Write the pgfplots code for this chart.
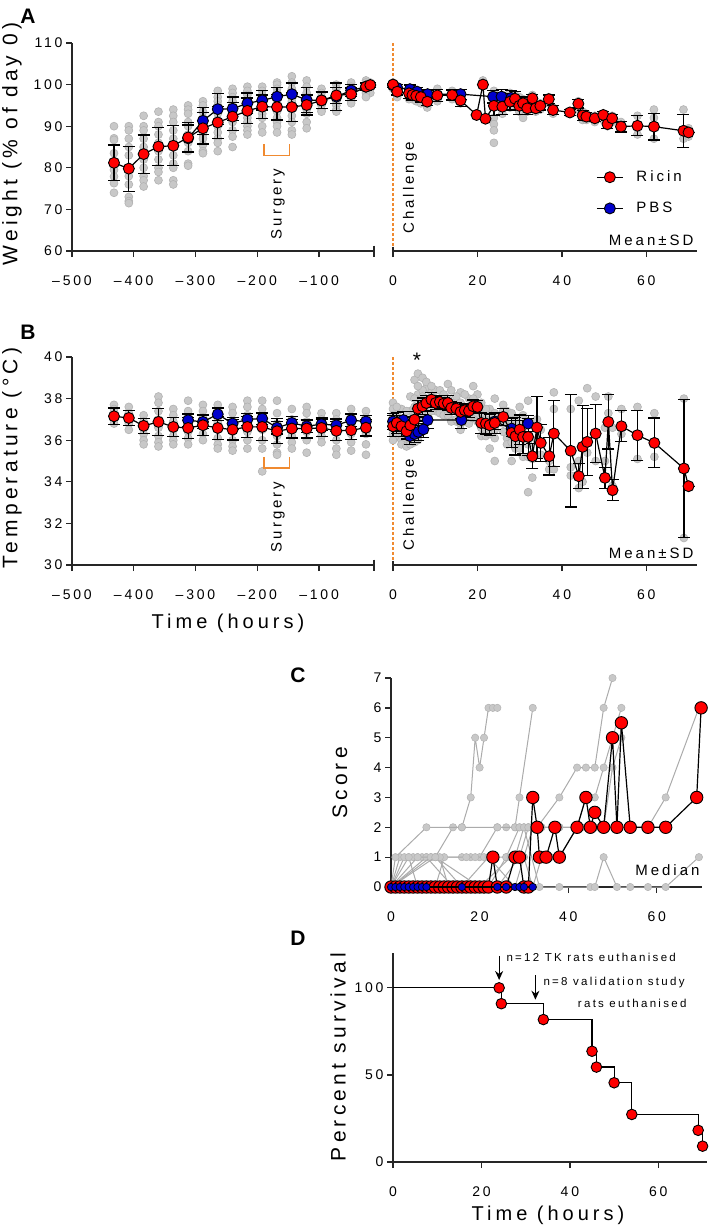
\documentclass[border=0pt]{standalone}
\usepackage{fontspec}
\setmainfont{Liberation Sans}[LetterSpace=20]
\usepackage{pgfplots}
\usepackage{pgfplotstable}
\pgfplotsset{compat=1.18}
\usetikzlibrary{arrows.meta}

\definecolor{ricin}{HTML}{FF0000}
\definecolor{pbs}{HTML}{0000CC}
\definecolor{dot}{HTML}{C8C8C8}
\definecolor{dotedge}{HTML}{B2B2B2}
\definecolor{orng}{HTML}{F08A30}
\definecolor{gline}{HTML}{ABABAB}

\newcommand\tks{\fontsize{14}{16}\selectfont}
\newcommand\lbs{\fontsize{21}{24}\selectfont}
\newcommand\tlb{\fontsize{20}{24}\selectfont}
\newcommand\ann{\fontsize{15}{18}\selectfont}
\newcommand\sml{\fontsize{11.5}{14}\selectfont}

\pgfplotsset{
  base/.style={scale only axis, clip=false, clip marker paths=true,
    axis line style={line width=1.3pt, black!85},
    every tick/.style={line width=1.3pt, black!85},
    tick align=outside, major tick length=6pt, minor tick num=0,
    tick label style={font=\tks},
    xticklabel style={yshift=-15pt},
    axis x line*=bottom, axis y line*=left},
  right/.style={base, axis y line=none, ytick=\empty},
  grey/.style={only marks, mark=*, mark size=4pt, forget plot,
    mark options={fill=dot, draw=dotedge, line width=0.6pt}},
  gpath/.style={gline, line width=1pt, mark=*, mark size=3.7pt, forget plot,
    mark options={fill=dot, draw=dotedge, line width=0.5pt}},
  rmark/.style={black, line width=1.2pt, mark=*, mark size=5.5pt,
    mark options={fill=ricin, draw=black, line width=0.9pt, solid}},
  bmark/.style={black, line width=1.2pt, mark=*, mark size=5.5pt,
    mark options={fill=pbs, draw=black, line width=0.9pt, solid}},
  sdbars/.style={forget plot, draw=none, mark=none,
    error bars/.cd, y dir=both, y explicit,
    error bar style={draw=black, line width=1.2pt, solid},
    error mark options={rotate=90, mark size=6pt, line width=1.2pt, draw=black}},
}

% ---------- panel A: weight ----------
\pgfplotstableread{
t a b c d e f g h i j k l
-432 90 87.1 86.7 83.5 81.1 79.5 77.9 76.3 74.0 nan nan nan
-408 90 89 87 85 83 80 78 76 73 72 71.5 nan
-384 92.5 90 89 87 85 82 80 78 77 75.5 nan nan
-360 93.5 91 90 88 86 84 82 80 79 77 nan nan
-336 94 92.5 91 89 87 85 83 81 80 77 76 nan
-312 95 94 93 91 90 88 86 84 81 80.5 nan nan
-288 96 95 93.5 92 91 90 89 88 87 85.5 84 83.5
-264 98.5 97 96 95 94 93 91.5 90 88.5 87 86 84
-240 99 98 97 96 95 94 93 91 89 87.5 85 nan
-216 99.5 98.5 97.5 96.5 95.5 94 92 91 90 89 88 nan
-192 99.5 98.5 97.5 97 96 95 94 93 92 90 88.5 nan
-168 100.5 100 99 98 96.5 95 93.5 92 91 90 88.5 nan
-144 102 100.5 99 98 97 96 94 92.5 91 89 88 nan
-120 101 99.5 98 97 96 95 94 93 91 89.5 nan nan
-96 99 98 97 96.5 96 95 94 93.5 nan nan nan nan
-72 100 99 98 97.5 97 96 95 94 93.5 nan nan nan
-48 100.5 99.5 99 98.5 98 97 96 95.5 nan nan nan nan
-24 101 100.5 100 99.5 99 98.5 98 97 nan nan nan nan
-17 100.5 100 99 98 nan nan nan nan nan nan nan nan
}\wgreyL

\pgfplotstableread{
t m sd
-432 81.2 4.3
-408 79.8 5.4
-384 83.3 4.6
-360 85.1 4.5
-336 85.3 4.8
-312 87.3 3.6
-288 89.5 3.8
-264 90.9 3.8
-240 92.3 3.4
-216 93.7 3.1
-192 94.7 2.8
-168 94.6 3.1
-144 94.6 3.4
-120 95.1 2.4
-96 96.2 2.0
-72 97.4 2.0
-48 97.7 1.5
-24 99.5 0.9
-17 99.9 0.6
}\wredL

\pgfplotstableread{
t m sd
-312 87.1 3.2
-288 91.3 3.2
-264 94.1 3.7
-240 94.2 2.8
-216 95.5 2.5
-192 96.2 2.3
-168 97.1 2.3
-144 97.7 2.7
-120 96.3 3.0
-96 96.2 2.0
-72 97.1 3.3
-48 98.6 1.5
-24 99.5 0.8
}\wblueL

\pgfplotstableread{
t a b c d e
0 100.5 99.5 99 nan nan
1 99 97.5 97 nan nan
3.8 99 97 96.5 nan nan
4.6 98.5 96.5 nan nan nan
5.5 98 96 nan nan nan
6.6 97.5 95.5 nan nan nan
8.1 97 95 94.5 nan nan
10.5 99 96 nan nan nan
14 98.5 96.5 nan nan nan
16 98 95.5 nan nan nan
19.8 93 92.5 nan nan nan
21.3 101 100 nan nan nan
21.9 92 nan nan nan nan
23.9 98.5 92 90.5 89 86
25.9 97.5 93 nan nan nan
27.7 98 94.5 nan nan nan
28.9 97.5 95.5 nan nan nan
29.9 97 93.5 nan nan nan
30.8 96.5 92 nan nan nan
31.8 96 93.5 nan nan nan
33.0 97.5 95 nan nan nan
33.8 95.5 93.5 nan nan nan
34.9 95.5 94 nan nan nan
36.9 97 95.5 nan nan nan
37.9 94.5 93 nan nan nan
41.9 93.5 nan nan nan nan
43.9 96 94 nan nan nan
44.9 93.5 91.5 nan nan nan
45.8 93 91.5 nan nan nan
47.8 92.5 91 nan nan nan
49.8 93 91.5 nan nan nan
50.8 91.5 90 nan nan nan
51.9 92.5 91 nan nan nan
54.0 91 89.5 nan nan nan
57.9 92.5 88 nan nan nan
61.8 94 92 87 nan nan
68.8 94 87 nan nan nan
70.0 89.5 87.5 nan nan nan
}\wgreyR

\pgfplotstableread{
t m sd
0 100.0 0
1 98.3 0.8
3.8 97.9 1.2
4.6 97.5 1.2
5.5 97.3 1.2
6.6 97.0 1.2
8.1 95.9 1.0
10.5 97.4 1.5
14 97.5 1.2
16 96.2 1.5
19.8 92.7 0
21.3 100.0 0
21.9 91.8 0
23.9 94.9 2.3
25.9 94.7 1.8
27.7 95.9 2.0
28.9 96.6 1.8
29.9 94.9 2.0
30.8 95.5 1.5
31.8 94.3 1.5
33.0 96.7 1.0
33.8 94.3 1.0
34.9 94.9 1.0
36.9 96.5 1.0
37.9 93.9 1.0
41.9 93.3 0.8
43.9 95.4 1.0
44.9 92.6 1.2
45.8 92.3 1.0
47.8 91.9 0.8
49.8 92.7 0.8
50.8 90.5 1.0
51.9 91.9 1.0
54.0 89.9 1.3
57.9 90.1 2.4
61.8 89.9 3.2
68.8 88.9 4.0
70.0 88.5 0
}\wredR

\pgfplotstableread{
t m sd
0 99.8 0.5
1 99.2 0.8
4 98.9 1.0
5.7 98.3 1.0
8.2 97.7 1.0
16 97.7 1.2
23.7 97.1 1.5
25.7 97.1 1.8
28 96.8 1.8
}\wblueR

% ---------- panel B: temperature ----------
\pgfplotstableread{
t a b c d e f g h
-432 37.7 37.5 37.2 37.0 36.8 nan nan nan
-408 37.6 37.3 36.8 36.5 nan nan nan nan
-384 37.2 36.9 36.6 36.3 36.0 35.8 nan nan
-360 38.1 37.8 37.4 37.0 36.6 36.2 35.9 35.7
-336 37.5 37.2 36.9 36.5 36.2 36.0 35.8 nan
-312 37.9 37.4 37.1 36.8 36.4 36.1 35.8 nan
-288 37.7 37.4 37.1 36.7 36.3 36.0 nan nan
-264 37.7 37.3 36.9 36.5 36.1 35.8 35.6 nan
-240 37.6 37.3 36.9 36.4 36.0 35.7 35.5 nan
-216 37.9 37.6 37.2 36.8 36.4 36.0 35.6 nan
-192 37.9 37.5 37.0 36.5 36.0 35.6 34.5 nan
-168 37.9 37.3 36.8 36.2 35.8 35.4 35.3 nan
-144 37.5 37.0 36.6 36.2 35.9 35.6 nan nan
-120 37.6 37.3 36.9 36.4 36.0 35.4 nan nan
-96 37.3 37.0 36.6 36.2 35.9 nan nan nan
-72 37.3 37.0 36.5 36.0 35.6 35.3 nan nan
-48 37.5 37.1 36.7 36.3 35.9 35.5 nan nan
-24 37.4 37.1 36.7 36.3 35.8 35.3 nan nan
}\tgreyL

\pgfplotstableread{
t m sd
-432 37.15 0.4
-408 37.07 0.35
-384 36.69 0.35
-360 36.88 0.65
-336 36.64 0.45
-312 36.59 0.5
-288 36.72 0.5
-264 36.59 0.55
-240 36.51 0.5
-216 36.64 0.5
-192 36.64 0.65
-168 36.43 0.6
-144 36.56 0.45
-120 36.56 0.45
-96 36.59 0.4
-72 36.45 0.45
-48 36.48 0.45
-24 36.60 0.4
}\tredL

\pgfplotstableread{
t m sd
-312 36.96 0.3
-288 36.88 0.3
-264 37.25 0.3
-240 36.80 0.3
-216 37.00 0.3
-192 37.04 0.3
-168 36.60 0.3
-144 36.83 0.3
-120 36.67 0.3
-96 36.77 0.3
-72 36.72 0.3
-48 36.96 0.3
-24 36.90 0.3
}\tblueL

\pgfplotstableread{
t a b c d e f g h
0 37.8 37.5 37.2 36.3 36.0 37.0 36.6 nan
0.9 37.3 36.2 nan nan nan 37.6 36.9 36.5
2.0 37.5 36.4 36.0 nan nan 37.0 35.8 nan
3.2 37.0 35.9 nan nan nan 37.4 36.3 35.7
4.1 38.1 37.4 36.0 nan nan 37.0 36.4 35.8
5.1 38.9 37.6 36.6 nan nan 38.0 37.2 35.9
5.9 39.2 38.2 36.0 nan nan 38.6 37.6 36.6
7.0 39.0 38.4 37.2 nan nan 38.1 37.7 nan
7.9 38.5 38.0 37.0 nan nan 38.8 37.5 nan
9.1 38.3 37.9 nan nan nan 38.6 37.4 nan
10.1 38.4 37.4 nan nan nan 38.0 37.6 nan
11.1 38.0 37.3 nan nan nan 38.4 37.6 nan
12.0 37.5 37.2 nan nan nan 38.2 37.8 nan
13.0 38.7 37.4 nan nan nan 38.0 37.2 nan
13.8 38.4 37.0 nan nan nan 37.8 36.9 nan
15.0 37.4 36.9 nan nan nan 38.1 37.0 nan
16.0 38.3 36.8 nan nan nan 37.8 36.5 nan
17.0 37.0 36.9 nan nan nan 38.2 37.6 nan
18.0 38.0 37.0 nan nan nan 37.6 36.8 nan
19.0 38.6 37.2 nan nan nan 38.0 37.5 nan
20.0 38.2 36.9 nan nan nan 37.7 37.3 nan
20.9 37.8 36.2 nan nan nan 37.3 36.6 nan
22.0 36.5 36.2 nan nan nan 37.5 37.0 nan
22.9 37.5 35.6 nan nan nan 37.0 36.3 nan
24.1 38.0 36.1 35.0 nan nan 37.3 36.5 nan
26.1 37.7 36.4 nan nan nan 37.4 36.8 nan
27.0 37.4 36.1 nan nan nan 36.8 35.8 nan
28.1 37.3 35.0 nan nan nan 36.8 35.9 nan
29.0 36.6 35.6 nan nan nan 37.0 35.8 nan
30.0 37.6 35.6 nan nan nan 36.8 36.2 nan
30.8 36.1 35.2 nan nan nan 37.2 36.6 nan
32.0 37.9 35.8 33.5 nan nan 36.9 35.2 nan
33.0 35.1 34.2 nan nan nan nan nan nan
34.1 37.0 36.0 nan nan nan nan nan nan
35.0 36.5 35.3 nan nan nan nan nan nan
37.0 35.0 34.6 nan nan nan nan nan nan
38.1 38.3 37.5 34.6 nan nan nan nan nan
42.1 37.5 34.7 34.3 nan nan nan nan nan
44.0 37.9 35.0 33.7 nan nan nan nan nan
44.9 34.0 nan nan nan nan nan nan nan
46.0 38.5 35.4 nan nan nan nan nan nan
48.0 38.1 35.0 nan nan nan nan nan nan
50.2 36.6 35.0 nan nan nan nan nan nan
51.0 38.1 37.3 nan nan nan nan nan nan
52.0 36.6 33.8 33.5 nan nan nan nan nan
54.1 37.5 36.3 nan nan nan nan nan nan
57.9 37.6 35.1 nan nan nan nan nan nan
61.9 37.3 35.2 nan nan nan nan nan nan
68.9 38.0 31.3 nan nan nan nan nan nan
70.0 33.8 nan nan nan nan nan nan nan
}\tgreyR

\pgfplotstableread{
t m sd
0 36.67 0.5
0.9 36.83 0.5
2.0 36.67 0.5
3.2 36.43 0.4
4.1 36.72 0.4
5.1 36.99 0.4
5.9 37.52 0.4
7.0 37.63 0.4
7.9 37.79 0.35
9.1 37.95 0.35
10.1 37.79 0.3
11.1 37.84 0.3
12.0 37.76 0.3
13.0 37.79 0.35
13.8 37.55 0.3
15.0 37.52 0.3
16.0 37.36 0.3
17.0 37.44 0.3
18.0 37.41 0.3
19.0 37.63 0.3
20.0 37.60 0.3
20.9 36.83 0.5
22.0 36.80 0.5
22.9 36.72 0.5
24.1 36.83 0.5
26.1 37.12 0.4
28.1 36.35 0.7
29.0 36.19 0.9
30.0 36.51 0.7
30.8 36.16 0.8
32.0 36.16 0.9
33.0 35.23 0.6
34.1 36.61 1.5
35.0 35.87 0.9
37.0 35.23 0.9
38.1 36.32 1.6
42.1 35.49 2.7
44.0 34.27 0.6
44.9 35.68 2.0
46.0 35.92 1.6
48.0 36.32 1.4
50.2 34.19 0.5
51.0 36.88 1.3
52.0 33.60 0.5
54.1 36.67 0.75
57.9 36.24 1.2
61.9 35.87 1.2
68.9 34.64 3.3
70.0 33.79 0
}\tredR

\pgfplotstableread{
t m sd
0 36.90 0.4
1 36.80 0.4
2.4 36.97 0.4
3.2 36.50 0.4
4.0 36.20 0.4
5.1 36.30 0.4
6.0 36.40 0.4
7.2 36.52 0.4
8.2 36.97 0.4
16.2 36.97 0.4
24.1 36.90 0.4
28.1 36.56 0.4
32.0 36.80 0.4
}\tblueR

\begin{document}
\begin{tikzpicture}
\useasboundingbox (0pt,0pt) rectangle (709pt,-1228pt);

% ===== A left =====
\begin{axis}[base, at={(72pt,-251pt)}, anchor=south west,
  width=302pt, height=208pt, xmin=-500, xmax=-11, ymin=60, ymax=110,
  xtick={-500,-400,-300,-200,-100}, xticklabels={–500,–400,–300,–200,–100},
  ytick={60,70,...,110}, yticklabels={60,70,80,90,100,110}]
\pgfplotsinvokeforeach{a,b,c,d,e,f,g,h,i,j,k,l}{
  \addplot[grey] table[x=t, y=#1] {\wgreyL};}
\addplot[sdbars] table[x=t, y=m, y error=sd] {\wblueL};
\addplot[sdbars] table[x=t, y=m, y error=sd] {\wredL};
\addplot[bmark, forget plot] table[x=t, y=m] {\wblueL};
\addplot[rmark, forget plot] table[x=t, y=m] {\wredL};
\draw[orng, line width=1.3pt] (axis cs:-189,85.7) -- (axis cs:-189,83)
  -- (axis cs:-148,83) -- (axis cs:-148,85.7);
\draw[line width=1.3pt, black!85] ([yshift=5.5pt]axis cs:-11,60)
  -- ([yshift=-5.5pt]axis cs:-11,60);
\end{axis}

% ===== A right =====
\begin{axis}[right, at={(393pt,-251pt)}, anchor=south west,
  width=304pt, height=208pt, xmin=0, xmax=72, ymin=60, ymax=110,
  xtick={0,20,40,60}, xticklabels={0,20,40,60},
  legend style={draw=none, fill=none, at={(0.668,0.395)}, anchor=north west,
    font=\ann, row sep=15pt, inner sep=0pt, cells={anchor=west}},
  legend image code/.code={\draw[mark repeat=2, mark phase=2]
    plot coordinates {(0pt,0pt) (13pt,0pt) (26pt,0pt)};}]
\draw[orng, line width=1.2pt, dash pattern=on 3pt off 2pt]
  (axis cs:0,60) -- (axis cs:0,110);
\pgfplotsinvokeforeach{a,b,c,d,e}{
  \addplot[grey] table[x=t, y=#1] {\wgreyR};}
\addplot[sdbars] table[x=t, y=m, y error=sd] {\wblueR};
\addplot[sdbars] table[x=t, y=m, y error=sd] {\wredR};
\addplot[bmark, forget plot] table[x=t, y=m] {\wblueR};
\addplot[rmark, forget plot] table[x=t, y=m] {\wredR};
\draw[line width=1.3pt, black!85] ([yshift=4.5pt]axis cs:0,60) -- (axis cs:0,60);
\addlegendimage{rmark}
\addlegendentry{\hspace{11pt}Ricin}
\addlegendimage{bmark}
\addlegendentry{\hspace{11pt}PBS}
\end{axis}

% ===== B left =====
\begin{axis}[base, at={(72pt,-565pt)}, anchor=south west,
  width=302pt, height=208pt, xmin=-500, xmax=-11, ymin=30, ymax=40,
  xtick={-500,-400,-300,-200,-100}, xticklabels={–500,–400,–300,–200,–100},
  ytick={30,32,...,40}, yticklabels={30,32,34,36,38,40}]
\pgfplotsinvokeforeach{a,b,c,d,e,f,g,h}{
  \addplot[grey] table[x=t, y=#1] {\tgreyL};}
\addplot[sdbars] table[x=t, y=m, y error=sd] {\tblueL};
\addplot[sdbars] table[x=t, y=m, y error=sd] {\tredL};
\addplot[bmark, forget plot] table[x=t, y=m] {\tblueL};
\addplot[rmark, forget plot] table[x=t, y=m] {\tredL};
\draw[orng, line width=1.3pt] (axis cs:-189,35.2) -- (axis cs:-189,34.66)
  -- (axis cs:-148,34.66) -- (axis cs:-148,35.2);
\draw[line width=1.3pt, black!85] ([yshift=5.5pt]axis cs:-11,30)
  -- ([yshift=-5.5pt]axis cs:-11,30);
\end{axis}

% ===== B right =====
\begin{axis}[right, at={(393pt,-565pt)}, anchor=south west,
  width=304pt, height=208pt, xmin=0, xmax=72, ymin=30, ymax=40,
  xtick={0,20,40,60}, xticklabels={0,20,40,60}]
\draw[orng, line width=1.2pt, dash pattern=on 3pt off 2pt]
  (axis cs:0,30) -- (axis cs:0,40);
\pgfplotsinvokeforeach{a,b,c,d,e,f,g,h}{
  \addplot[grey] table[x=t, y=#1] {\tgreyR};}
\addplot[sdbars] table[x=t, y=m, y error=sd] {\tblueR};
\addplot[sdbars] table[x=t, y=m, y error=sd] {\tredR};
\addplot[bmark, forget plot] table[x=t, y=m] {\tblueR};
\addplot[rmark, forget plot] table[x=t, y=m] {\tredR};
\draw[line width=1.3pt, black!85] ([yshift=4.5pt]axis cs:0,30) -- (axis cs:0,30);
\end{axis}

% ===== C: clinical score =====
\begin{axis}[base, at={(391pt,-887pt)}, anchor=south west,
  width=311pt, height=209pt, xmin=0, xmax=70.2, ymin=0, ymax=7,
  xtick={0,20,40,60}, xticklabels={0,20,40,60},
  ytick={0,1,...,7}, yticklabels={0,1,2,3,4,5,6,7}]
\addplot[gpath] coordinates {(0,0) (2,1) (4,1) (6,1) (8,1) (10,1) (14,2) (16,2)
  (18,3) (19,5) (20,4) (21,5) (22,6) (23,6) (24,6)};
\addplot[gpath] coordinates {(0,0) (3,1) (5,1) (7,1) (9,1) (16,1) (18,1) (20,1)
  (24,2) (26,2) (28,2) (29,3) (32,6)};
\addplot[gpath] coordinates {(0,0) (1,1) (8,2) (16,2) (24,2) (28,2) (29,2) (30,2)
  (31,2) (33,2) (38,3) (42,4) (44,4) (46,4) (48,6) (50,7)};
\addplot[gpath] coordinates {(0,0) (4,1) (6,0) (10,0) (12,1) (17,1) (19,1) (21,1)
  (26,1) (29,2) (31,2) (33,2) (42,2) (44,3) (46,3) (48,4) (50,5) (52,6)};
\addplot[gpath] coordinates {(0,0) (8,1) (14,0) (22,0) (26,1) (28,1) (30,2)
  (33.5,0) (38,0) (45,0) (46,0) (48,1) (51,0) (54,0) (58,0) (62,0) (69.5,1)};
\addplot[gpath] coordinates {(0,0) (6,1) (10,1) (20,0) (27,1) (30,1) (32,2)
  (34,2) (38,2) (42,2) (44,2) (46,2) (48,2) (50,4) (52,5)};
\addplot[gpath] coordinates {(0,0) (9,1) (11,1) (13,0) (24,0) (29,1) (31,2) (33,2)
  (38,2) (44,2) (48,2) (54,2) (58,2) (62,3) (69.5,6)};
\addplot[gpath] coordinates {(0,0) (10,1) (16,0) (22,1) (28,0) (30,1) (32,0)
  (34,1) (36,1) (38,1) (42,2) (44,2) (46,2)};
\addplot[black, line width=1.2pt, mark=*, mark size=6.2pt,
  mark options={fill=ricin, draw=black, line width=0.9pt}] coordinates {
  (0,0) (1,0) (2,0) (3,0) (4,0) (5,0) (6,0) (7,0) (8,0) (9,0) (10,0)
  (11,0) (12,0) (13,0) (14,0) (15,0) (16,0) (17,0) (18,0) (19,0) (20,0)
  (21,0) (22,0) (23,1) (24,0) (26,0) (28,1) (29,1) (30,0) (31,0) (32,3)
  (33,2) (33.5,1) (35,1) (37,2) (38,1) (42,2) (44,3) (45,2) (46,2.5)
  (48,2) (50,5) (51,2) (52,5.5) (54,2) (58,2) (62,2) (69,3) (70,6)};
\addplot[black, line width=1.2pt, mark=*, mark size=3.7pt,
  mark options={fill=pbs, draw=black, line width=0.7pt}] coordinates {
  (0,0) (1,0) (2,0) (3,0) (4,0) (5,0) (6,0) (7,0) (8,0) (16,0) (24,0)
  (26,0) (28,0) (29,0) (30,0) (32,0)};
\end{axis}

% ===== D: survival =====
\begin{axis}[base, at={(393pt,-1162pt)}, anchor=south west,
  width=314pt, height=209pt, xmin=0, xmax=71, ymin=0, ymax=120,
  xtick={0,20,40,60}, xticklabels={0,20,40,60},
  ytick={0,50,100}, yticklabels={0,50,100}]
\addplot[black, line width=1.2pt, const plot mark left] coordinates {
  (0,100) (24.5,90.9) (34,81.8) (45,63.6) (46,54.5) (50,45.5) (54,27.3)
  (69,18.2) (70,9.1) (70,9.1)};
\addplot[only marks, mark=*, mark size=5.3pt,
  mark options={fill=ricin, draw=black, line width=0.9pt}] coordinates {
  (24,100) (24.5,90.9) (34,81.8) (45,63.6) (46,54.5) (50,45.5) (54,27.3)
  (69,18.2) (70,9.1)};
\draw[-{Stealth[length=9pt, width=8pt]}, line width=1.2pt]
  (axis cs:24,118.3) -- (axis cs:24,104.5);
\draw[-{Stealth[length=9pt, width=8pt]}, line width=1.2pt]
  (axis cs:32.2,107.1) -- (axis cs:32.2,93.2);
\end{axis}

% ===== text =====
\node[font=\lbs\bfseries] at (28pt,-16pt) {A};
\node[font=\lbs\bfseries] at (28pt,-332pt) {B};
\node[font=\lbs\bfseries] at (298pt,-675pt) {C};
\node[font=\lbs\bfseries] at (298pt,-938pt) {D};

\node[font=\lbs, rotate=90] at (12pt,-144pt) {Weight (\% of day 0)};
\node[font=\lbs, rotate=90] at (12pt,-458pt) {Temperature (°C)};
\node[font=\tlb] at (228pt,-623pt) {Time (hours)};
\node[font=\lbs, rotate=90] at (340pt,-783pt) {Score};
\node[font=\lbs, rotate=90] at (338pt,-1057pt) {Percent survival};
\node[font=\tlb] at (548pt,-1215pt) {Time (hours)};

\node[font=\ann, rotate=90] at (278pt,-204pt) {Surgery};
\node[font=\ann, rotate=90] at (278pt,-517pt) {Surgery};
\node[font=\ann, rotate=90] at (410pt,-188pt) {Challenge};
\node[font=\ann, rotate=90] at (410pt,-505pt) {Challenge};
\node[font=\ann, anchor=east] at (697pt,-240pt) {Mean±SD};
\node[font=\ann, anchor=east] at (697pt,-553pt) {Mean±SD};
\node[font=\lbs] at (417pt,-360pt) {*};
\node[font=\ann, anchor=east] at (703pt,-870pt) {Median};

\node[font=\sml, anchor=west] at (503pt,-957pt) {n=12 TK rats euthanised};
\node[font=\sml, anchor=west] at (540pt,-983pt) {n=8 validation study};
\node[font=\sml, anchor=east] at (690pt,-1003pt) {rats euthanised};
\end{tikzpicture}
\end{document}
